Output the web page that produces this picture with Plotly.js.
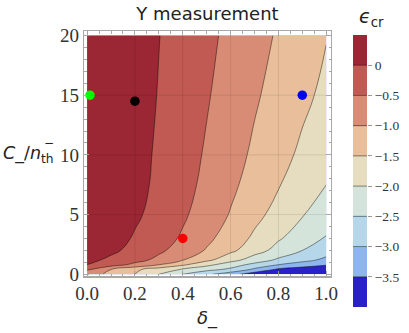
<!DOCTYPE html>
<html>
<head>
<meta charset="utf-8">
<script src="https://cdn.plot.ly/plotly-3.0.1.min.js"></script>
<style>
  html, body { margin: 0; padding: 0; background: #fff; }
  #chart { width: 409px; height: 333px; }
</style>
</head>
<body>
<div id="chart"></div>
<script>
// grid: columns = delta, rows = C/n_th
const deltaVals = [0, 0.1, 0.2, 0.3, 0.4, 0.5, 0.6, 0.7, 0.8, 0.9, 1.0];
const cRatioVals = [0, 0.4, 0.8, 1.2, 2, 3, 5, 7.5, 10, 15, 20];
const epsCr = [
  [-0.80, -1.10, -1.50, -2.00, -2.50, -2.90, -3.30, -3.80, -4.00, -4.00, -4.00],
  [-0.45, -1.00, -1.40, -1.75, -2.05, -2.35, -2.60, -3.10, -3.60, -3.80, -3.95],
  [ 0.00, -0.29, -0.62, -1.00, -1.42, -1.86, -2.27, -2.64, -3.00, -3.22, -3.45],
  [ 0.13, -0.10, -0.34, -0.62, -0.98, -1.38, -1.82, -2.23, -2.58, -2.86, -3.10],
  [ 0.36,  0.10, -0.15, -0.41, -0.71, -1.04, -1.39, -1.79, -2.17, -2.50, -2.80],
  [ 0.46,  0.21, -0.05, -0.30, -0.56, -0.89, -1.23, -1.59, -1.95, -2.24, -2.53],
  [ 0.59,  0.34,  0.08, -0.17, -0.43, -0.72, -1.03, -1.36, -1.67, -1.97, -2.27],
  [ 0.64,  0.40,  0.15, -0.10, -0.35, -0.61, -0.90, -1.19, -1.47, -1.74, -2.00],
  [ 0.65,  0.41,  0.17, -0.07, -0.31, -0.55, -0.82, -1.08, -1.34, -1.59, -1.85],
  [ 0.63,  0.41,  0.20, -0.02, -0.24, -0.46, -0.70, -0.94, -1.17, -1.39, -1.61],
  [ 0.63,  0.42,  0.22,  0.01, -0.19, -0.39, -0.61, -0.83, -1.05, -1.27, -1.48]
];

// contour levels / colour bands (low -> high)
const levelTicks = [0, -0.5, -1, -1.5, -2, -2.5, -3, -3.5];
const levelLabels = ['0', '\u22120.5', '\u22121.0', '\u22121.5', '\u22122.0', '\u22122.5', '\u22123.0', '\u22123.5'];
const bandBase = [-4, -3.5, -3, -2.5, -2, -1.5, -1, -0.5, 0];
const bandColors = ['#2a20c8', '#8fb5ee', '#b5d7e9', '#d4e4da', '#e6dcc0', '#e8be9b', '#d88c75', '#c05a52', '#9b2634'];

// marked points
const pointDelta = [0.012, 0.2, 0.4, 0.9];
const pointC = [15, 14.5, 3, 15];
const pointColors = ['#00ff00', '#000000', '#ff0000', '#0000ff'];

const xTicks = [0, 0.2, 0.4, 0.6, 0.8, 1.0];
const yTicks = [0, 5, 10, 15, 20];

// page geometry (px)
const W = 409, H = 333;
const ml = 84, mr = 26, mt = 31, mb = 26;
const pw = W - ml - mr, ph = H - mt - mb;
const px = v => (v - ml) / pw;
const py = v => (H - mb - v) / ph;

const serif = 'Liberation Serif, Times New Roman, serif';
const sans = 'DejaVu Sans, sans-serif';

const contour = {
  type: 'contour',
  x: deltaVals,
  y: cRatioVals,
  z: epsCr,
  autocontour: false,
  contours: {start: -3.5, end: 0, size: 0.5, coloring: 'fill', showlines: true},
  line: {color: 'rgba(0,0,0,0.55)', width: 0.8, smoothing: 1.3},
  colorscale: bandColors.map((c, i) => [i / (bandColors.length - 1), c]),
  showscale: false,
  hoverinfo: 'skip'
};

const points = {
  type: 'scatter',
  mode: 'markers',
  x: pointDelta,
  y: pointC,
  marker: {color: pointColors, size: 9.5},
  hoverinfo: 'skip'
};

// colour bar as stacked bands on its own axis
const colorBar = {
  type: 'bar',
  x: bandBase.map(() => 0),
  y: bandBase.map(() => 0.5),
  base: bandBase,
  width: 1,
  marker: {color: bandColors, line: {width: 0}},
  xaxis: 'x2',
  yaxis: 'y2',
  hoverinfo: 'skip'
};

const frameColor = '#a8a8a8';
const axisCommon = {
  showline: true,
  linecolor: frameColor,
  linewidth: 1.2,
  mirror: 'allticks',
  ticks: 'inside',
  ticklen: 5,
  tickwidth: 1,
  tickcolor: frameColor,
  showgrid: false,
  zeroline: false,
  tickfont: {family: serif, size: 19, color: '#333'}
};

const shapes = [];
xTicks.slice(1, -1).forEach(v => shapes.push({
  type: 'line', xref: 'x', yref: 'y', x0: v, x1: v, y0: 0, y1: 20,
  line: {color: 'rgba(0,0,0,0.09)', width: 1}, layer: 'above'
}));
yTicks.slice(1, -1).forEach(v => shapes.push({
  type: 'line', xref: 'x', yref: 'y', x0: 0, x1: 1, y0: v, y1: v,
  line: {color: 'rgba(0,0,0,0.09)', width: 1}, layer: 'above'
}));
levelTicks.forEach(v => shapes.push({
  type: 'line', xref: 'x2', yref: 'y2', x0: -0.5, x1: 0.5, y0: v, y1: v,
  line: {color: 'rgba(0,0,0,0.45)', width: 1}, layer: 'above'
}));

const layout = {
  width: W,
  height: H,
  margin: {l: ml, r: mr, t: mt, b: mb, pad: 0},
  paper_bgcolor: '#fff',
  plot_bgcolor: '#fff',
  showlegend: false,
  bargap: 0,
  title: {
    text: 'Y measurement',
    font: {family: sans, size: 18, color: '#222'},
    xref: 'container', x: 207.5 / W, xanchor: 'center',
    yref: 'container', y: 1 - 14 / H, yanchor: 'middle'
  },
  xaxis: Object.assign({}, axisCommon, {
    domain: [0, 247 / pw],
    range: [-0.013, 1.02],
    tickvals: xTicks,
    ticktext: xTicks.map(v => v.toFixed(1)),
    minor: {ticks: 'inside', ticklen: 2.5, dtick: 0.05, tick0: 0, tickcolor: frameColor, showgrid: false}
  }),
  yaxis: Object.assign({}, axisCommon, {
    domain: [py(276.3), 1],
    range: [-0.17, 20.38],
    tickvals: yTicks,
    minor: {ticks: 'inside', ticklen: 2.5, dtick: 1, tick0: 0, tickcolor: frameColor, showgrid: false}
  }),
  xaxis2: {
    domain: [px(353), px(367)],
    range: [-0.5, 0.5],
    visible: false,
    anchor: 'y2',
    fixedrange: true
  },
  yaxis2: {
    domain: [py(307), py(35)],
    range: [-4, 0.5],
    anchor: 'x2',
    side: 'right',
    showline: false,
    showgrid: false,
    zeroline: false,
    ticks: 'outside',
    ticklen: 4,
    tickcolor: '#999',
    tickvals: levelTicks,
    ticktext: levelLabels,
    tickfont: {family: serif, size: 13.5, color: '#333'}
  },
  shapes: shapes,
  annotations: [
    {
      text: '<i>C</i>_/<i>n</i><sub>th</sub>',
      xref: 'paper', yref: 'paper', x: px(1), y: py(154),
      xanchor: 'left', yanchor: 'middle', showarrow: false,
      font: {family: sans, size: 17.5, color: '#222'}
    },
    {
      text: '\u2212',
      xref: 'paper', yref: 'paper', x: px(49), y: py(143),
      xanchor: 'center', yanchor: 'middle', showarrow: false,
      font: {family: sans, size: 12, color: '#222'}
    },
    {
      text: '<i>\u03b4</i>_',
      xref: 'paper', yref: 'paper', x: px(207), y: py(318),
      xanchor: 'center', yanchor: 'middle', showarrow: false,
      font: {family: sans, size: 18, color: '#222'}
    },
    {
      text: '<i>\u03f5</i><sub>cr</sub>',
      xref: 'paper', yref: 'paper', x: px(357), y: py(17),
      xanchor: 'left', yanchor: 'middle', showarrow: false,
      font: {family: sans, size: 19, color: '#222'}
    }
  ]
};

Plotly.newPlot('chart', [contour, points, colorBar], layout, {staticPlot: true, displayModeBar: false});
</script>
</body>
</html>
